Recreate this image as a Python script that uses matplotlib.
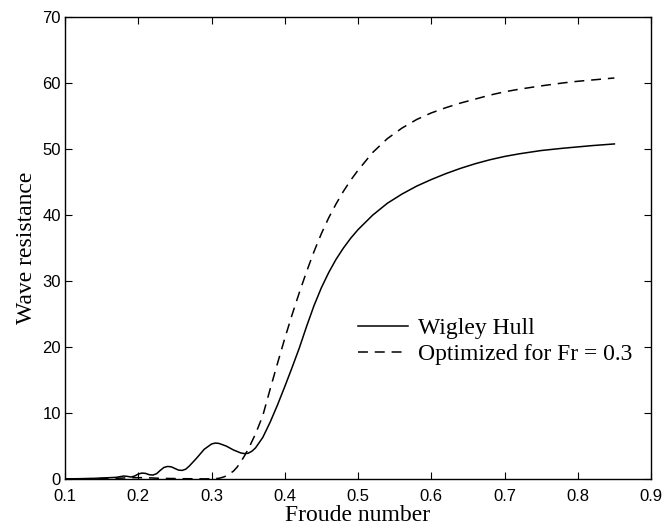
import matplotlib
matplotlib.use("Agg")
import matplotlib.pyplot as plt

# Data
fr_wigley = [0.10, 0.12, 0.14, 0.15, 0.16, 0.17, 0.175, 0.18, 0.185, 0.19, 0.195, 0.20, 0.205, 0.21,
             0.215, 0.22, 0.225, 0.23, 0.235, 0.24, 0.245, 0.25, 0.255, 0.26, 0.265, 0.27, 0.28, 0.29,
             0.30, 0.305, 0.31, 0.32, 0.33, 0.34, 0.345, 0.35, 0.355, 0.36, 0.37, 0.38, 0.39, 0.40,
             0.41, 0.42, 0.43, 0.44, 0.45, 0.46, 0.47, 0.48, 0.49, 0.50, 0.52, 0.54, 0.56, 0.58,
             0.60, 0.62, 0.64, 0.66, 0.68, 0.70, 0.72, 0.75, 0.78, 0.80, 0.82, 0.85]
rw_wigley = [0.02, 0.05, 0.1, 0.15, 0.2, 0.25, 0.35, 0.45, 0.4, 0.3, 0.45, 0.75, 0.9, 0.85,
             0.65, 0.6, 0.8, 1.3, 1.75, 1.9, 1.85, 1.6, 1.35, 1.3, 1.5, 2.0, 3.2, 4.5,
             5.3, 5.45, 5.4, 5.0, 4.4, 3.95, 3.85, 3.9, 4.2, 4.7, 6.3, 8.6, 11.2, 14.0,
             16.9, 19.9, 23.2, 26.3, 29.0, 31.3, 33.3, 35.0, 36.5, 37.8, 40.0, 41.8, 43.2, 44.4,
             45.4, 46.3, 47.1, 47.8, 48.4, 48.9, 49.3, 49.8, 50.15, 50.35, 50.55, 50.8]

fr_opt = [0.10, 0.14, 0.17, 0.19, 0.21, 0.23, 0.26, 0.29, 0.30, 0.31, 0.315, 0.32, 0.325, 0.33,
          0.335, 0.34, 0.345, 0.35, 0.36, 0.37, 0.38, 0.39, 0.40, 0.41, 0.42, 0.43, 0.44, 0.45,
          0.46, 0.47, 0.48, 0.49, 0.50, 0.52, 0.54, 0.56, 0.58, 0.60, 0.62, 0.64, 0.66, 0.68,
          0.70, 0.72, 0.75, 0.78, 0.80, 0.82, 0.85]
rw_opt = [0.0, 0.05, 0.1, 0.2, 0.2, 0.1, 0.05, 0.02, 0.03, 0.1, 0.25, 0.45, 0.8, 1.2,
          1.8, 2.6, 3.5, 4.5, 6.8, 9.6, 13.6, 17.5, 21.3, 24.9, 28.3, 31.5, 34.5, 37.2,
          39.6, 41.7, 43.6, 45.3, 46.8, 49.5, 51.6, 53.2, 54.5, 55.5, 56.3, 57.0, 57.6, 58.2,
          58.7, 59.1, 59.6, 60.05, 60.3, 60.5, 60.8]

xticks = [0.1, 0.2, 0.3, 0.4, 0.5, 0.6, 0.7, 0.8, 0.9]
xticklabels = ["0.1", "0.2", "0.3", "0.4", "0.5", "0.6", "0.7", "0.8", "0.9"]
yticks = [0, 10, 20, 30, 40, 50, 60, 70]
yticklabels = ["0", "10", "20", "30", "40", "50", "60", "70"]

serif = ["Liberation Serif", "DejaVu Serif"]
sans = ["Liberation Sans", "DejaVu Sans"]

fig = plt.figure(figsize=(6.64, 5.27), dpi=100)
ax = fig.add_axes([65 / 664, 48 / 527, 586 / 664, 461.7 / 527])

ax.plot(fr_wigley, rw_wigley, color="black", lw=1.1, label="Wigley Hull")
ax.plot(fr_opt, rw_opt, color="black", lw=1.1, dashes=(6.5, 4.5), label="Optimized for Fr = 0.3")

ax.set_xlim(0.1, 0.9)
ax.set_ylim(0, 70)
ax.set_xticks(xticks)
ax.set_xticklabels(xticklabels, family=sans, fontsize=12)
ax.set_yticks(yticks)
ax.set_yticklabels(yticklabels, family=sans, fontsize=12)
ax.tick_params(direction="in", length=5, width=0.8, top=True, right=True)
ax.tick_params(axis="x", pad=7)
ax.tick_params(axis="y", pad=3)
for s in ax.spines.values():
    s.set_linewidth(1.0)

ax.set_xlabel("Froude number", family=serif, fontsize=17, labelpad=1)
ax.set_ylabel("Wave resistance", family=serif, fontsize=17, labelpad=4)

leg = ax.legend(loc="center left", bbox_to_anchor=((358 - 65) / 586, (479 - 341.5) / 462),
                frameon=False, borderpad=0, borderaxespad=0, handlelength=2.1,
                handletextpad=0.45, labelspacing=0.2, prop={"family": serif, "size": 17})

fig.savefig("out.png", dpi=100)
